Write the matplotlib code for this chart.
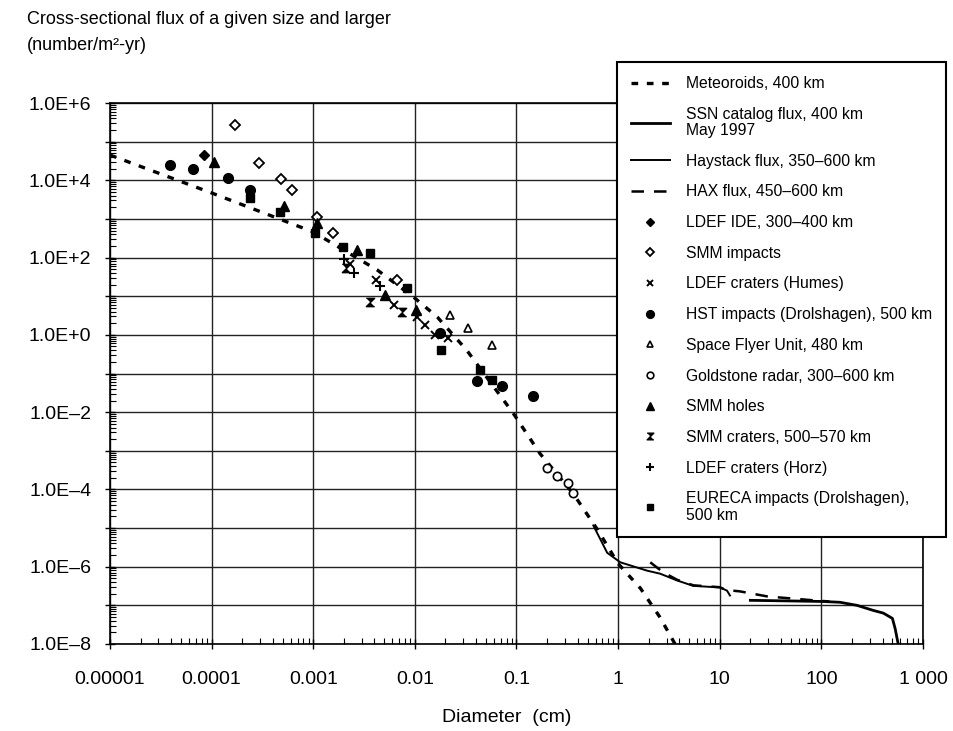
# Orbital debris / meteoroid cross-sectional flux versus diameter

import numpy as np
import matplotlib
matplotlib.use("Agg")
import matplotlib.pyplot as plt
from matplotlib.ticker import LogLocator, NullFormatter

plt.rcParams['font.family'] = ['Liberation Sans', 'DejaVu Sans']

# Curves (diameter in cm, flux in number/m2-yr)
met_d = [1e-5, 1e-4, 1e-3, 4.3e-3, 0.01, 0.0166, 0.0324, 0.093, 0.17, 0.36, 0.63, 1.0, 1.66, 2.57, 3.63]
met_f = [4.5e4, 4.7e3, 460, 47, 8.9, 2.9, 0.4, 9.3e-3, 8.5e-4, 7.9e-5, 8.9e-6, 1.2e-6, 2.75e-7, 5e-8, 1e-8]

ssn_d = [20, 50, 104, 153, 224, 324, 407, 500, 532, 570]
ssn_f = [1.35e-7, 1.3e-7, 1.26e-7, 1.2e-7, 1e-7, 7.4e-8, 6.3e-8, 4.6e-8, 2.5e-8, 1e-8]

hay_d = [0.57, 0.78, 1.05, 1.93, 2.59, 3.81, 5.47, 10.1, 11.8, 12.6]
hay_f = [1.17e-5, 2.3e-6, 1.3e-6, 7.9e-7, 6.6e-7, 4.4e-7, 3.2e-7, 2.9e-7, 2.4e-7, 1.8e-7]

hax_d = [2.07, 2.77, 3.8, 5.5, 10.0, 11.5, 15.8, 29.5, 52, 84, 120]
hax_f = [1.3e-6, 7.2e-7, 4.6e-7, 3.3e-7, 2.95e-7, 2.5e-7, 2.3e-7, 1.7e-7, 1.5e-7, 1.35e-7, 1.26e-7]

# Measurements
ide_d = [8.5e-5]
ide_f = [4.5e4]
smm_imp_d = [1.7e-4, 2.9e-4, 4.8e-4, 6.2e-4, 1.1e-3, 1.55e-3, 6.6e-3]
smm_imp_f = [2.7e5, 2.8e4, 1.07e4, 5.6e3, 1.1e3, 430, 26]
humes_d = [2.3e-3, 4.1e-3, 6.2e-3, 0.0105, 0.0125, 0.0158, 0.021]
humes_f = [70, 26, 5.9, 2.9, 1.8, 1.0, 0.81]
hst_d = [3.9e-5, 6.6e-5, 1.45e-4, 2.4e-4, 0.0178, 0.041, 0.072, 0.145]
hst_f = [2.45e4, 1.95e4, 1.15e4, 5.6e3, 1.1, 0.063, 0.047, 0.026]
sfu_d = [0.022, 0.033, 0.058]
sfu_f = [3.2, 1.5, 0.54]
gold_d = [0.2, 0.25, 0.32, 0.36]
gold_f = [3.5e-4, 2.2e-4, 1.5e-4, 8e-5]
holes_d = [1.05e-4, 5.2e-4, 1.1e-3, 2.7e-3, 5.1e-3, 0.0103]
holes_f = [2.9e4, 2.1e3, 780, 155, 10.7, 4.4]
smm_cr_d = [2.1e-3, 3.6e-3, 7.4e-3]
smm_cr_f = [54, 7, 3.9]
horz_d = [2.0e-3, 2.5e-3, 4.5e-3]
horz_f = [90, 40, 18]
eureca_d = [2.4e-4, 4.7e-4, 1.05e-3, 1.95e-3, 3.6e-3, 8.3e-3, 0.018, 0.044, 0.058]
eureca_f = [3.5e3, 1.5e3, 430, 186, 130, 16, 0.4, 0.12, 0.066]

x_ticks = [1e-5, 1e-4, 1e-3, 1e-2, 1e-1, 1, 10, 100, 1000]
x_labels = ["0.00001", "0.0001", "0.001", "0.01", "0.1", "1", "10", "100", "1 000"]
y_exps = list(range(-8, 7))


def main():
    fig = plt.figure(figsize=(9.54, 7.31), dpi=100)
    ax = fig.add_axes([110 / 954, 1 - 644 / 731, 813 / 954, 541 / 731])

    ax.plot(met_d, met_f, color='black', lw=2.4, ls=(0, (2, 2.6)), label='Meteoroids, 400 km')
    ax.plot(ssn_d, ssn_f, color='black', lw=2.0, label='SSN catalog flux, 400 km\nMay 1997')
    ax.plot(hay_d, hay_f, color='black', lw=1.4, label='Haystack flux, 350\u2013600 km')
    ax.plot(hax_d, hax_f, color='black', lw=1.8, ls=(0, (5, 4)), label='HAX flux, 450\u2013600 km')

    ms = 6
    ax.plot(ide_d, ide_f, 'D', color='black', ms=ms - 1, ls='none', label='LDEF IDE, 300\u2013400 km')
    ax.plot(smm_imp_d, smm_imp_f, 'D', mfc='white', mec='black', mew=1.3, ms=ms - 1, ls='none', label='SMM impacts')
    ax.plot(humes_d, humes_f, 'x', color='black', mew=1.4, ms=ms, ls='none', label='LDEF craters (Humes)')
    ax.plot(hst_d, hst_f, 'o', color='black', ms=ms + 1, ls='none', label='HST impacts (Drolshagen), 500 km')
    ax.plot(sfu_d, sfu_f, '^', mfc='white', mec='black', mew=1.2, ms=ms, ls='none', label='Space Flyer Unit, 480 km')
    ax.plot(gold_d, gold_f, 'o', mfc='white', mec='black', mew=1.2, ms=ms, ls='none', label='Goldstone radar, 300\u2013600 km')
    ax.plot(holes_d, holes_f, '^', color='black', ms=ms + 1, ls='none', label='SMM holes')
    hourglass = [(-1, 1), (1, 1), (-1, -1), (1, -1)]
    ax.plot(smm_cr_d, smm_cr_f, marker=hourglass, color='black', ms=ms, ls='none', label='SMM craters, 500\u2013570 km')
    ax.plot(horz_d, horz_f, '+', color='black', mew=1.5, ms=ms + 1, ls='none', label='LDEF craters (Horz)')
    ax.plot(eureca_d, eureca_f, 's', color='black', ms=ms, ls='none', label='EURECA impacts (Drolshagen),\n500 km')

    ax.set_xscale('log')
    ax.set_yscale('log')
    ax.set_xlim(1e-5, 1e3)
    ax.set_ylim(1e-8, 1e6)

    ax.set_xticks(x_ticks)
    ax.set_xticklabels(x_labels, fontsize=14)
    y_ticks = [10.0 ** e for e in y_exps]
    y_labels = [("1.0E+%d" % e if e >= 0 else "1.0E\u2013%d" % -e) if e % 2 == 0 else "" for e in y_exps]
    ax.set_yticks(y_ticks)
    ax.set_yticklabels(y_labels, fontsize=14)
    for axis in (ax.xaxis, ax.yaxis):
        axis.set_minor_locator(LogLocator(base=10, subs=np.arange(2, 10), numticks=100))
        axis.set_minor_formatter(NullFormatter())

    ax.tick_params(which='major', direction='inout', length=7, width=1.0, color='black')
    ax.tick_params(axis='x', which='major', pad=16)
    ax.tick_params(axis='y', which='major', pad=10)
    ax.tick_params(which='minor', direction='in', length=4, width=0.8, color='black')

    ax.grid(True, which='major', color='#222222', lw=1.0)
    for s in ax.spines.values():
        s.set_linewidth(1.2)

    fig.text(27 / 954, 1 - 19 / 731, "Cross-sectional flux of a given size and larger",
             fontsize=13, va='center', ha='left')
    fig.text(27 / 954, 1 - 45 / 731, "(number/m\u00b2-yr)", fontsize=13, va='center', ha='left')
    fig.text(507 / 954, 1 - 718 / 731, "Diameter  (cm)", fontsize=14, va='center', ha='center')

    leg = ax.legend(loc='upper right', bbox_to_anchor=(946 / 954, 1 - 62 / 731),
                    bbox_transform=fig.transFigure, borderaxespad=0, fontsize=11.3, frameon=True,
                    fancybox=False, edgecolor='black', framealpha=1, handlelength=2.5,
                    handletextpad=1.0, labelspacing=1.0, borderpad=0.9, markerscale=0.8)
    for t in leg.get_texts():
        t.set_linespacing(1.1)
    leg.get_frame().set_linewidth(1.5)

    fig.savefig('out.png', dpi=100)


if __name__ == "__main__":
    main()
